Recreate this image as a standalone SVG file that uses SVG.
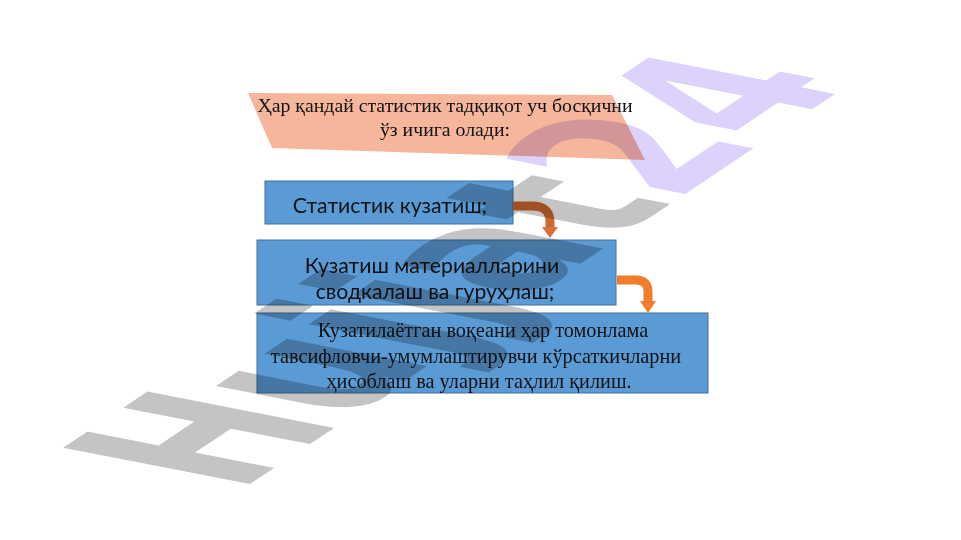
<svg xmlns="http://www.w3.org/2000/svg" width="961" height="540" viewBox="0 0 961 540">
<style>
.box{fill:#5b9bd5;stroke:#41719c;stroke-width:1}
.sans{font-family:Lato,"Open Sans","Liberation Sans",sans-serif;fill:#111;text-anchor:middle}
.serif{font-family:"Liberation Serif",serif;fill:#111;text-anchor:middle}
.arr{fill:none;stroke-width:9;stroke-linecap:butt}
.wm{font-family:"DejaVu Sans",sans-serif;font-weight:bold;font-size:100px}
</style>
<rect width="961" height="540" fill="#ffffff"/>
<g id="title">
<polygon points="248,93 612,95 645,160 272,148" fill="#f5b69b"/>
<text class="serif" font-size="19.8" x="445" y="112">Ҳар қандай статистик тадқиқот уч босқични</text>
<text class="serif" font-size="19.8" x="445" y="136">ўз ичига олади:</text>
</g>
<g id="step1">
<rect class="box" x="265" y="181" width="248" height="43"/>
<text class="sans" font-size="21.2" x="390" y="213">Статистик кузатиш;</text>
</g>
<g id="step2">
<rect class="box" x="257" y="240" width="359" height="65"/>
<text class="sans" font-size="21.2" x="432" y="273">Кузатиш материалларини</text>
<text class="sans" font-size="21.2" x="435" y="299">сводкалаш ва гуруҳлаш;</text>
</g>
<g id="step3">
<rect class="box" x="257" y="313" width="451" height="80"/>
<text class="serif" font-size="20.3" x="483" y="337">Кузатилаётган воқеани ҳар томонлама</text>
<text class="serif" font-size="20.3" x="476" y="363">тавсифловчи-умумлаштирувчи кўрсаткичларни</text>
<text class="serif" font-size="20.3" x="479" y="388">ҳисоблаш ва уларни таҳлил қилиш.</text>
</g>
<g id="connectors">
<path class="arr" stroke="#d0692f" d="M513,206 L532,206 Q550,206 550,222 L550,228"/>
<polygon points="542,227 558,227 550,238" fill="#d9703a"/>
<path class="arr" stroke="#f07c2c" d="M617,280 L636,280 Q648,280 648,292 L648,302"/>
<polygon points="640,301 656,301 648,313" fill="#f07c2c"/>
</g>
<g id="watermark" style="mix-blend-mode:multiply">
<text class="wm" transform="matrix(1.29,-0.86,2.56,0.5,238,492)"><tspan fill="#c4c4c4">Hujjat</tspan><tspan fill="#dcd2fb">24</tspan></text>
</g>
</svg>
